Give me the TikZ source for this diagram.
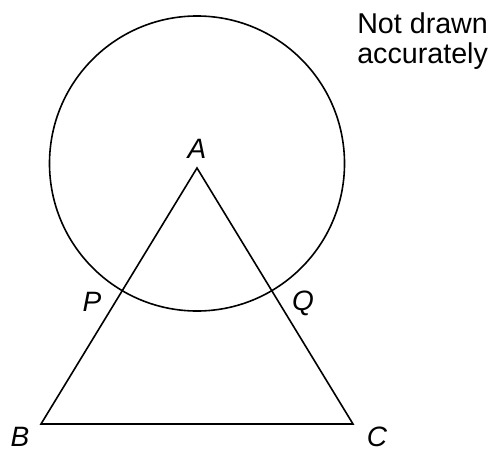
\documentclass[tikz,border=0pt]{standalone}
\usepackage{fontspec}
\setmainfont{Liberation Sans}
\begin{document}
\begin{tikzpicture}[x=0.75pt,y=-0.75pt,
  lbl/.style={anchor=base,inner sep=0pt,font=\fontsize{21}{25}\selectfont\itshape},
  note/.style={anchor=base west,inner sep=0pt,font=\fontsize{21.5}{25}\selectfont},
  shape line/.style={line width=1.2pt,line join=miter}]
\useasboundingbox (0,0) rectangle (492,450);
\coordinate (O) at (197,163.5);
\coordinate (A) at (197,168);
\coordinate (B) at (41,424);
\coordinate (C) at (353,424);
\draw[shape line] (O) circle[radius=147.5];
\draw[shape line] (A) -- (B) -- (C) -- cycle;
\node[lbl] (lA) at (197,158) {A};
\node[lbl] (lP) at (92,311) {P};
\node[lbl] (lQ) at (303,310) {Q};
\node[lbl] (lB) at (20,446) {B};
\node[lbl] (lC) at (377,446) {C};
\node[note] (n1) at (357,33) {Not drawn};
\node[note] (n2) at (357,63) {accurately};
\end{tikzpicture}
\end{document}
